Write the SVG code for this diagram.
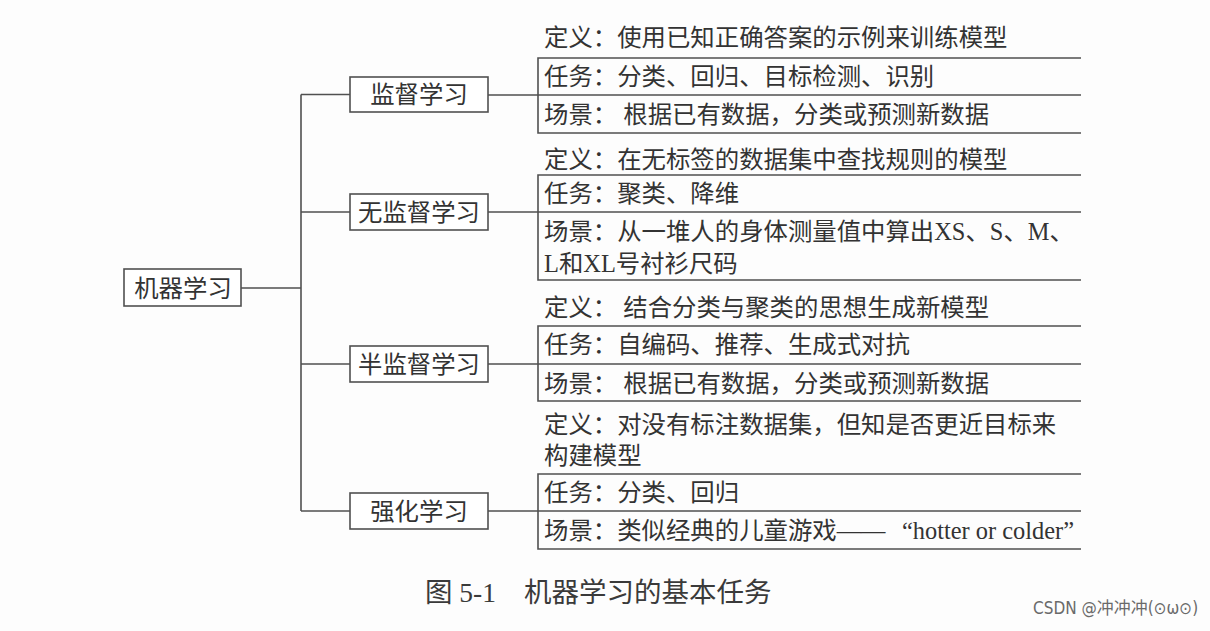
<svg xmlns="http://www.w3.org/2000/svg" width="1210" height="631" viewBox="0 0 1210 631">
<style>
  .ln{fill:none;stroke:#505050;stroke-width:1.6}
  .bx{fill:#fff;stroke:#505050;stroke-width:1.6}
  .t{font-family:"Liberation Serif","Noto Sans CJK SC",serif;font-size:24.4px;fill:#333}
  .c{text-anchor:middle}
  .cap{font-family:"Liberation Serif","Noto Sans CJK SC",serif;font-size:27.5px;fill:#3a3a3a}
  .wm{font-family:"Liberation Sans Narrow","DejaVu Sans Condensed","Noto Sans CJK SC",sans-serif;font-size:17px;fill:#6a6a6a}
</style>
<rect width="1210" height="631" fill="#fdfdfd"/>
<g id="connectors">
  <path class="ln" d="M241,288 H301 M301,94.5 V511 M301,94.5 H350 M301,212 H350 M301,364 H350 M301,511 H350"/>
  <path class="ln" d="M488,95 H538 M488,212 H538 M488,364 H538 M488,511 H538"/>
</g>
<g id="root">
  <rect class="bx" x="124" y="269" width="117" height="37"/>
  <text class="t c" x="183" y="297">机器学习</text>
</g>
<g id="supervised">
  <rect class="bx" x="350" y="77" width="138" height="35"/>
  <text class="t c" x="419" y="103">监督学习</text>
</g>
<g id="unsupervised">
  <rect class="bx" x="350" y="194" width="138" height="36"/>
  <text class="t c" x="419" y="221">无监督学习</text>
</g>
<g id="semisupervised">
  <rect class="bx" x="350" y="346" width="138" height="36"/>
  <text class="t c" x="419" y="373">半监督学习</text>
</g>
<g id="reinforcement">
  <rect class="bx" x="350" y="493" width="138" height="36"/>
  <text class="t c" x="419" y="520">强化学习</text>
</g>
<g id="panel-supervised">
  <text class="t" x="544" y="46">定义：使用已知正确答案的示例来训练模型</text>
  <path class="ln" d="M1081,58 H538 V133 H1081 M538,95 H1081"/>
  <text class="t" x="544" y="85">任务：分类、回归、目标检测、识别</text>
  <text class="t" x="544" y="123">场景： 根据已有数据，分类或预测新数据</text>
</g>
<g id="panel-unsupervised">
  <text class="t" x="544" y="168">定义：在无标签的数据集中查找规则的模型</text>
  <path class="ln" d="M1081,175 H538 V280 H1081 M538,212 H1081"/>
  <text class="t" x="544" y="202">任务：聚类、降维</text>
  <text class="t" x="544" y="240">场景：从一堆人的身体测量值中算出XS、S、M、</text>
  <text class="t" x="544" y="272">L和XL号衬衫尺码</text>
</g>
<g id="panel-semisupervised">
  <text class="t" x="544" y="316">定义： 结合分类与聚类的思想生成新模型</text>
  <path class="ln" d="M1081,326 H538 V401 H1081 M538,364 H1081"/>
  <text class="t" x="544" y="353">任务：自编码、推荐、生成式对抗</text>
  <text class="t" x="544" y="392">场景： 根据已有数据，分类或预测新数据</text>
</g>
<g id="panel-reinforcement">
  <text class="t" x="544" y="433">定义：对没有标注数据集，但知是否更近目标来</text>
  <text class="t" x="544" y="464">构建模型</text>
  <path class="ln" d="M1081,474 H538 V549 H1081 M538,511 H1081"/>
  <text class="t" x="544" y="501">任务：分类、回归</text>
  <text class="t" x="544" y="539">场景：类似经典的儿童游戏——<tspan x="902">“hotter or colder”</tspan></text>
</g>
<g id="caption">
  <text class="cap" x="425" y="602">图 5-1</text>
  <text class="cap" x="524" y="602">机器学习的基本任务</text>
</g>
<text class="wm" x="1033" y="614">CSDN @冲冲冲(⊙ω⊙)</text>
</svg>
